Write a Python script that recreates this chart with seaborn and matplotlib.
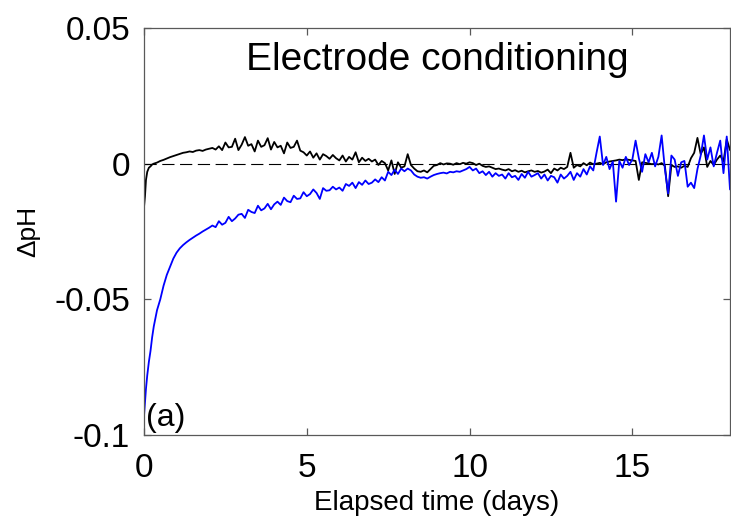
import matplotlib
matplotlib.use("Agg")
import matplotlib.pyplot as plt
import numpy as np
import pandas as pd
import seaborn as sns

# sample times (days): a few early points, then every 0.1 day
days_early = [0, 0.03, 0.06, 0.1, 0.15, 0.2, 0.25, 0.3, 0.4, 0.5, 0.6, 0.7, 0.8, 0.9]
days = days_early + [round(1 + 0.1 * i, 1) for i in range(171)]

# black trace, delta pH
ref_black = [
    -0.016, -0.012, -0.006, -0.003, -0.0015, -0.001, -0.0003, 0.0, 0.0004, 0.0010, 0.0014, 0.0019, 0.0024, 0.0028,
    0.0032, 0.0036, 0.0040, 0.0042, 0.0045, 0.0043, 0.0048, 0.0050, 0.0047, 0.0052,
    0.0055, 0.0058, 0.0052, 0.0064, 0.0050, 0.0078, 0.0060, 0.0062, 0.0092, 0.0050,
    0.0070, 0.0098, 0.0066, 0.0072, 0.0045, 0.0085, 0.0062, 0.0068, 0.0094, 0.0052,
    0.0080, 0.0060, 0.0066, 0.0038, 0.0078, 0.0058, 0.0062, 0.0085, 0.0048, 0.0042,
    0.0030, 0.0045, 0.0022, 0.0038, 0.0015, 0.0035, 0.0028, 0.0018, 0.0032, 0.0020,
    0.0012, 0.0030, 0.0008, 0.0025, 0.0015, 0.0042, 0.0005, 0.0022, 0.0010, 0.0018,
    0.0008, 0.0015, -0.0005, 0.0010, 0.0002, -0.0025, 0.0012, -0.0038, 0.0005, -0.0015,
    -0.0010, 0.0035, -0.0005, -0.0018, -0.0028, -0.0030, -0.0025, -0.0032, -0.0020, -0.0008,
    -0.0005, 0.0002, -0.0003, 0.0001, 0.0000, -0.0004, 0.0002, -0.0002, 0.0003, 0.0000,
    0.0005, 0.0002, -0.0005, 0.0000, -0.0008, -0.0012, -0.0010, -0.0015, -0.0020, -0.0018,
    -0.0022, -0.0025, -0.0020, -0.0028, -0.0024, -0.0030, -0.0026, -0.0032, -0.0028, -0.0025,
    -0.0030, -0.0027, -0.0033, -0.0029, -0.0022, -0.0035, -0.0018, -0.0025, -0.0015, -0.0020,
    -0.0012, 0.0040, -0.0015, -0.0005, -0.0010, 0.0002, -0.0006, 0.0004, -0.0002, 0.0000,
    0.0003, -0.0002, 0.0005, 0.0008, 0.0010, 0.0012, 0.0015, 0.0013, 0.0016, 0.0014,
    0.0012, 0.0010, -0.0060, 0.0005, 0.0003, 0.0001, -0.0002, 0.0000, -0.0003, 0.0002,
    -0.0008, -0.0120, -0.0005, -0.0012, -0.0010, -0.0015, -0.0008, -0.0012, 0.0020, 0.0040,
    0.0095, 0.0035, 0.0060, -0.0012, 0.0010, -0.0005, 0.0015, 0.0030, 0.0008, 0.0090,
    0.0050,
]

# blue trace, delta pH
test_blue = [
    -0.093, -0.088, -0.083, -0.078, -0.073, -0.069, -0.064, -0.060, -0.054, -0.050, -0.045, -0.041, -0.038, -0.035,
    -0.0328, -0.0312, -0.0300, -0.0290, -0.0281, -0.0273, -0.0265, -0.0258, -0.0250, -0.0243,
    -0.0236, -0.0228, -0.0234, -0.0212, -0.0225, -0.0218, -0.0196, -0.0212, -0.0202, -0.0188,
    -0.0185, -0.0200, -0.0170, -0.0178, -0.0182, -0.0155, -0.0172, -0.0165, -0.0148, -0.0168,
    -0.0150, -0.0140, -0.0152, -0.0125, -0.0138, -0.0142, -0.0118, -0.0130, -0.0128, -0.0105,
    -0.0120, -0.0112, -0.0095, -0.0108, -0.0130, -0.0090, -0.0100, -0.0098, -0.0085, -0.0095,
    -0.0088, -0.0100, -0.0075, -0.0082, -0.0070, -0.0090, -0.0068, -0.0078, -0.0062, -0.0075,
    -0.0070, -0.0058, -0.0068, -0.0050, -0.0062, -0.0030, -0.0042, -0.0022, -0.0038, -0.0018,
    -0.0028, -0.0018, -0.0025, -0.0040, -0.0048, -0.0052, -0.0050, -0.0055, -0.0048, -0.0042,
    -0.0038, -0.0035, -0.0033, -0.0036, -0.0030, -0.0032, -0.0028, -0.0030, -0.0025, -0.0020,
    -0.0012, -0.0025, -0.0018, -0.0035, -0.0028, -0.0042, -0.0030, -0.0048, -0.0035, -0.0045,
    -0.0040, -0.0055, -0.0035, -0.0050, -0.0045, -0.0060, -0.0038, -0.0052, -0.0030, -0.0048,
    -0.0042, -0.0035, -0.0055, -0.0040, -0.0062, -0.0045, -0.0050, -0.0070, -0.0040, -0.0055,
    -0.0045, -0.0030, -0.0060, -0.0035, -0.0048, -0.0020, -0.0040, -0.0010, -0.0025, 0.0040,
    0.0100, -0.0005, 0.0025, -0.0020, 0.0008, -0.0140, 0.0010, -0.0015, 0.0025, -0.0005,
    0.0015, 0.0085, 0.0020, -0.0030, 0.0035, 0.0005, 0.0040, -0.0010, 0.0025, 0.0104,
    -0.0020, -0.0110, 0.0030, 0.0015, -0.0045, 0.0005, 0.0010, -0.0085, -0.0070, -0.0090,
    -0.0020, 0.0030, 0.0104, 0.0015, 0.0060, -0.0010, 0.0040, 0.0085, -0.0035, 0.0100,
    -0.0095,
]

baseline = 0.0
x_ticks = [0, 5, 10, 15]
y_ticks = [-0.1, -0.05, 0, 0.05]
y_tick_labels = ["-0.1", "-0.05", "0", "0.05"]

df = pd.DataFrame({
    "days": days * 2,
    "dph": ref_black + test_blue,
    "trace": ["black"] * len(days) + ["blue"] * len(days),
})

sns.set_theme(style="ticks")
plt.rcParams["font.family"] = ["Liberation Sans", "DejaVu Sans"]
plt.rcParams["axes.unicode_minus"] = False
plt.rcParams["text.color"] = "black"
plt.rcParams["axes.labelcolor"] = "black"

fig = plt.figure(figsize=(7.31, 5.21), dpi=100)
ax = fig.add_axes([144 / 731, 1 - 435 / 521, 586 / 731, 407 / 521])

ax.axhline(baseline, color="black", lw=0.8, dashes=(11, 5), zorder=1)
sns.lineplot(data=df, x="days", y="dph", hue="trace", palette={"black": "black", "blue": "#0000ff"},
             estimator=None, sort=False, legend=False, lw=1.3, ax=ax, zorder=2)

ax.set_xlim(0, 18)
ax.set_ylim(-0.1, 0.05)
ax.set_xticks(x_ticks)
ax.set_xticklabels([str(v) for v in x_ticks])
ax.set_yticks(y_ticks)
ax.set_yticklabels(y_tick_labels)
ax.tick_params(direction="in", top=True, right=True, length=5, width=0.9, color="0.35",
               labelsize=24, labelcolor="black")
ax.tick_params(axis="x", pad=13)
ax.tick_params(axis="y", pad=10)
for s in ax.spines.values():
    s.set_visible(True)
    s.set_color("0.35")
    s.set_linewidth(0.9)

ax.set_xlabel("Elapsed time (days)", fontsize=20, labelpad=4, color="black")
ax.set_ylabel("\u0394pH", fontsize=19, labelpad=10, color="black")
ax.text(0.5, 0.9656, "Electrode conditioning", transform=ax.transAxes, ha="center", va="top",
        fontsize=28, color="black")
ax.text(0.003, 0.006, "(a)", transform=ax.transAxes, ha="left", va="bottom", fontsize=23, color="black")

fig.savefig("out.png", dpi=100)
